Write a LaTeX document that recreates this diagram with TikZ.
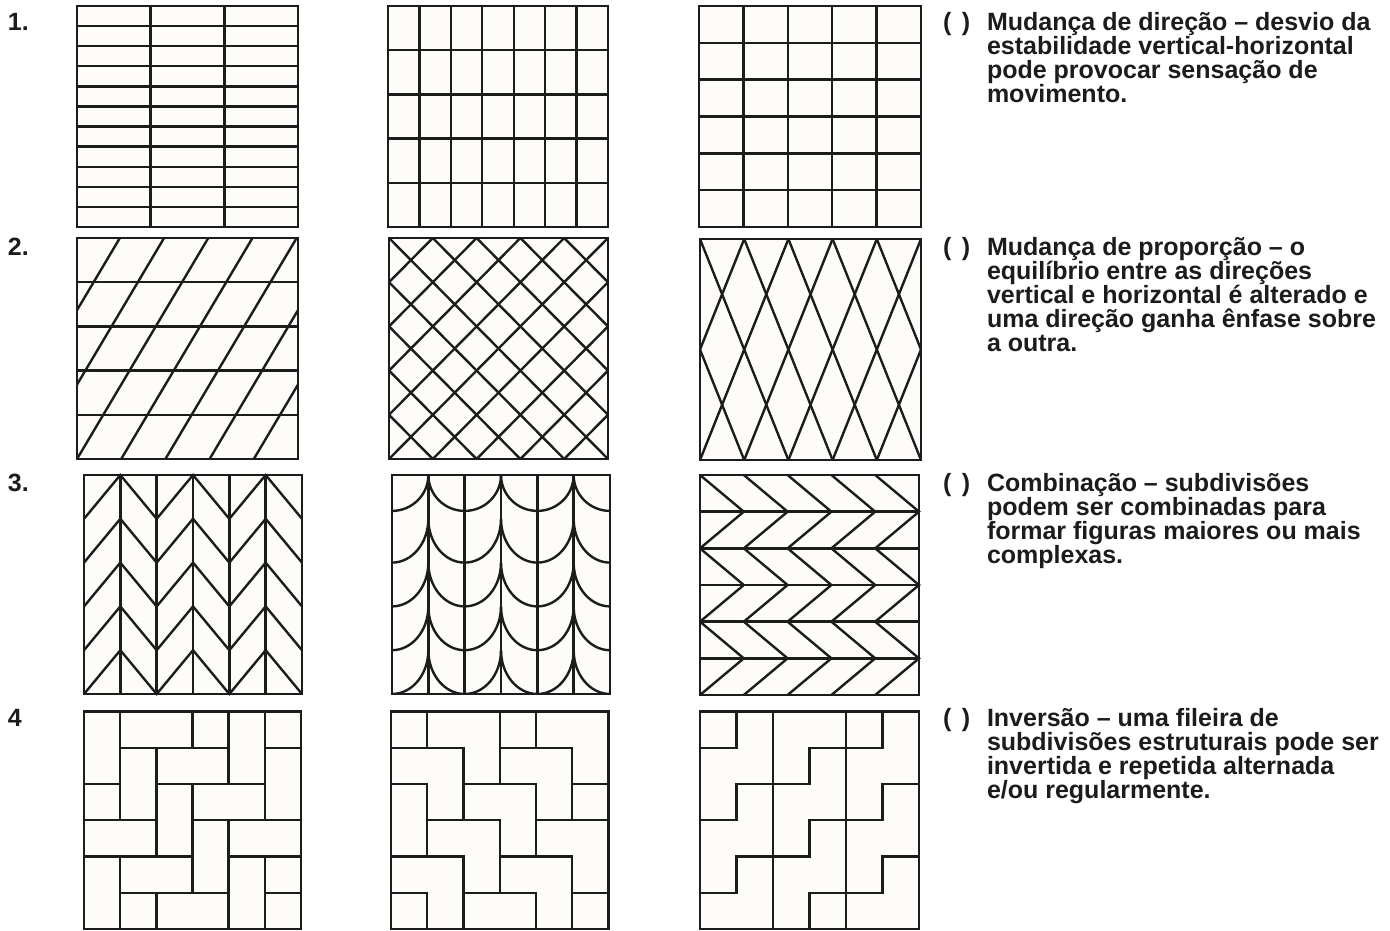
\documentclass[tikz,border=0pt]{standalone}
\usepackage{fontspec}
\setmainfont{Liberation Sans}
\definecolor{ink}{RGB}{28,28,28}
\definecolor{paper}{RGB}{253,252,248}
\tikzset{
  pline/.style={draw=ink, line width=2.4pt, line join=miter},
  txt/.style={font=\fontsize{25}{24}\selectfont\bfseries, text=ink, anchor=base west, inner sep=0pt, outer sep=0pt},
}
\begin{document}
\begin{tikzpicture}[x=1pt,y=-1pt]
\fill[white] (0,0) rectangle (1390,930);
\useasboundingbox (0,0) rectangle (1390,930);

% ---------- Row 1 ----------
\begin{scope}[shift={(77,6)},xscale=221/3,yscale=221/11]
  \fill[paper] (0,0) rectangle (3,11);
  \foreach \i in {1,...,10} \draw[pline] (0,\i) -- (3,\i);
  \foreach \i in {1,2} \draw[pline] (\i,0) -- (\i,11);
  \draw[pline] (0,0) rectangle (3,11);
\end{scope}
\begin{scope}[shift={(388,6)},xscale=220/7,yscale=221/5]
  \fill[paper] (0,0) rectangle (7,5);
  \foreach \i in {1,...,4} \draw[pline] (0,\i) -- (7,\i);
  \foreach \i in {1,...,6} \draw[pline] (\i,0) -- (\i,5);
  \draw[pline] (0,0) rectangle (7,5);
\end{scope}
\begin{scope}[shift={(699,6)},xscale=222/5,yscale=221/6]
  \fill[paper] (0,0) rectangle (5,6);
  \foreach \i in {1,...,5} \draw[pline] (0,\i) -- (5,\i);
  \foreach \i in {1,...,4} \draw[pline] (\i,0) -- (\i,6);
  \draw[pline] (0,0) rectangle (5,6);
\end{scope}

% ---------- Row 2 ----------
\begin{scope}[shift={(77,238)},xscale=221/5,yscale=221/5]
  \fill[paper] (0,0) rectangle (5,5);
  \begin{scope}
    \clip (0,0) rectangle (5,5);
    \foreach \i in {1,...,4} \draw[pline] (0,\i) -- (5,\i);
    \foreach \k in {-2,...,4} \draw[pline] (\k,5) -- (\k+2.97,0);
  \end{scope}
  \draw[pline] (0,0) rectangle (5,5);
\end{scope}
\begin{scope}[shift={(389,238)},xscale=219/5,yscale=221/5]
  \fill[paper] (0,0) rectangle (5,5);
  \begin{scope}
    \clip (0,0) rectangle (5,5);
    \foreach \c in {-4,...,4} \draw[pline] (\c,0) -- (\c+5,5);
    \foreach \c in {1,...,9} \draw[pline] (\c,0) -- (\c-5,5);
  \end{scope}
  \draw[pline] (0,0) rectangle (5,5);
\end{scope}
\begin{scope}[shift={(700,239)},xscale=221/5,yscale=221/4]
  \fill[paper] (0,0) rectangle (5,4);
  \begin{scope}
    \clip (0,0) rectangle (5,4);
    \foreach \k in {-1,...,4} \draw[pline] (\k,0) -- (\k+2,4);
    \foreach \k in {1,...,6} \draw[pline] (\k,0) -- (\k-2,4);
  \end{scope}
  \draw[pline] (0,0) rectangle (5,4);
\end{scope}

% ---------- Row 3 ----------
\begin{scope}[shift={(84,475)},xscale=218/6,yscale=219/5]
  \fill[paper] (0,0) rectangle (6,5);
  \foreach \i in {1,...,5} \draw[pline] (\i,0) -- (\i,5);
  \foreach \i in {0,...,4}
    \draw[pline] (0,\i+1) -- (1,\i) -- (2,\i+1) -- (3,\i) -- (4,\i+1) -- (5,\i) -- (6,\i+1);
  \draw[pline] (0,0) rectangle (6,5);
\end{scope}
\begin{scope}[shift={(392,475)},xscale=218/6,yscale=219/5]
  \fill[paper] (0,0) rectangle (6,5);
  \begin{scope}
    \clip (0,0) rectangle (6,5);
    \foreach \i in {1,...,5} \draw[pline] (\i,0) -- (\i,5);
    % top row: shallower arcs
    \foreach \c in {0,2,4,6}
      \draw[pline] (\c-1,0) .. controls (\c-1,0.4529) and (\c-0.5523,0.82) .. (\c,0.82)
                   .. controls (\c+0.5523,0.82) and (\c+1,0.4529) .. (\c+1,0);
    \foreach \i in {1,...,4}
      \foreach \c in {0,2,4,6}
        \draw[pline] (\c-1,\i) .. controls (\c-1,\i+0.5523) and (\c-0.5523,\i+1) .. (\c,\i+1)
                     .. controls (\c+0.5523,\i+1) and (\c+1,\i+0.5523) .. (\c+1,\i);
  \end{scope}
  \draw[pline] (0,0) rectangle (6,5);
\end{scope}
\begin{scope}[shift={(700,475)},xscale=219/5,yscale=220/6]
  \fill[paper] (0,0) rectangle (5,6);
  \foreach \i in {1,...,5} \draw[pline] (0,\i) -- (5,\i);
  \foreach \j in {0,2,4}
    \foreach \k in {0,...,4}
      \draw[pline] (\k,\j) -- (\k+1,\j+1) -- (\k,\j+2);
  \draw[pline] (0,0) rectangle (5,6);
\end{scope}

% ---------- Row 4 ----------
\begin{scope}[shift={(84,711.5)},xscale=217/6,yscale=217.5/6]
  \fill[paper] (0,0) rectangle (6,6);
  \foreach \a/\b/\c/\d in {0/0/1/2, 1/0/3/1, 3/0/4/1, 4/0/5/2, 5/0/6/1,
      1/1/2/3, 2/1/4/2, 5/1/6/3, 0/2/1/3, 2/2/3/4, 3/2/5/3,
      0/3/2/4, 3/3/4/5, 4/3/6/4, 0/4/1/6, 1/4/3/5, 4/4/5/6, 5/4/6/5,
      1/5/2/6, 2/5/4/6, 5/5/6/6}
    \draw[pline] (\a,\b) rectangle (\c,\d);
  \draw[pline] (0,0) rectangle (6,6);
\end{scope}
\begin{scope}[shift={(391,711.5)},xscale=217.5/6,yscale=217.5/6]
  \fill[paper] (0,0) rectangle (6,6);
  \draw[pline] (1,0) -- (3,0) -- (3,2) -- (2,2) -- (2,1) -- (1,1) -- cycle;
  \draw[pline] (4,0) -- (6,0) -- (6,2) -- (5,2) -- (5,1) -- (4,1) -- cycle;
  \draw[pline] (0,1) -- (2,1) -- (2,3) -- (1,3) -- (1,2) -- (0,2) -- cycle;
  \draw[pline] (3,1) -- (5,1) -- (5,3) -- (4,3) -- (4,2) -- (3,2) -- cycle;
  \draw[pline] (0,2) rectangle (1,4);
  \draw[pline] (2,2) -- (4,2) -- (4,4) -- (3,4) -- (3,3) -- (2,3) -- cycle;
  \draw[pline] (1,3) -- (3,3) -- (3,5) -- (2,5) -- (2,4) -- (1,4) -- cycle;
  \draw[pline] (4,3) -- (6,3) -- (6,5) -- (5,5) -- (5,4) -- (4,4) -- cycle;
  \draw[pline] (0,4) -- (2,4) -- (2,6) -- (1,6) -- (1,5) -- (0,5) -- cycle;
  \draw[pline] (3,4) -- (5,4) -- (5,6) -- (4,6) -- (4,5) -- (3,5) -- cycle;
  \draw[pline] (2,5) rectangle (4,6);
  \draw[pline] (0,0) rectangle (6,6);
\end{scope}
\begin{scope}[shift={(700,711.5)},xscale=219/6,yscale=217.5/6]
  \fill[paper] (0,0) rectangle (6,6);
  \draw[pline] (0,1) -- (1,1) -- (1,0);
  \draw[pline] (2,2) -- (1,2) -- (1,3) -- (0,3);
  \draw[pline] (2,4) -- (1,4) -- (1,5) -- (0,5);
  \draw[pline] (4,1) -- (3,1) -- (3,2) -- (2,2);
  \draw[pline] (4,3) -- (3,3) -- (3,4) -- (2,4);
  \draw[pline] (4,5) -- (3,5) -- (3,6);
  \draw[pline] (4,1) -- (5,1) -- (5,0);
  \draw[pline] (6,2) -- (5,2) -- (5,3) -- (4,3);
  \draw[pline] (6,4) -- (5,4) -- (5,5) -- (4,5);
  \draw[pline] (2,0) -- (2,6);
  \draw[pline] (4,0) -- (4,6);
  \draw[pline] (0,0) rectangle (6,6);
\end{scope}

% ---------- Numbers ----------
\node[txt] (num1) at (8,30) {1.};
\node[txt] (num2) at (8,255) {2.};
\node[txt] (num3) at (8,491) {3.};
\node[txt] (num4) at (8,726) {4};

% ---------- Texts ----------
\node[txt] (p1) at (943,30) {(\hspace{0.42em})};
\node[txt] (a1) at (987,30) {Mudança de direção – desvio da};
\node[txt] (a2) at (987,54) {estabilidade vertical-horizontal};
\node[txt] (a3) at (987,78) {pode provocar sensação de};
\node[txt] (a4) at (987,102) {movimento.};

\node[txt] (p2) at (943,255) {(\hspace{0.42em})};
\node[txt] (b1) at (987,255) {Mudança de proporção – o};
\node[txt] (b2) at (987,279) {equilíbrio entre as direções};
\node[txt] (b3) at (987,303) {vertical e horizontal é alterado e};
\node[txt] (b4) at (987,327) {uma direção ganha ênfase sobre};
\node[txt] (b5) at (987,351) {a outra.};

\node[txt] (p3) at (943,491) {(\hspace{0.42em})};
\node[txt] (c1) at (987,491) {Combinação – subdivisões};
\node[txt] (c2) at (987,515) {podem ser combinadas para};
\node[txt] (c3) at (987,539) {formar figuras maiores ou mais};
\node[txt] (c4) at (987,563) {complexas.};

\node[txt] (p4) at (943,726) {(\hspace{0.42em})};
\node[txt] (d1) at (987,726) {Inversão – uma fileira de};
\node[txt] (d2) at (987,750) {subdivisões estruturais pode ser};
\node[txt] (d3) at (987,774) {invertida e repetida alternada};
\node[txt] (d4) at (987,798) {e/ou regularmente.};
\end{tikzpicture}
\end{document}
